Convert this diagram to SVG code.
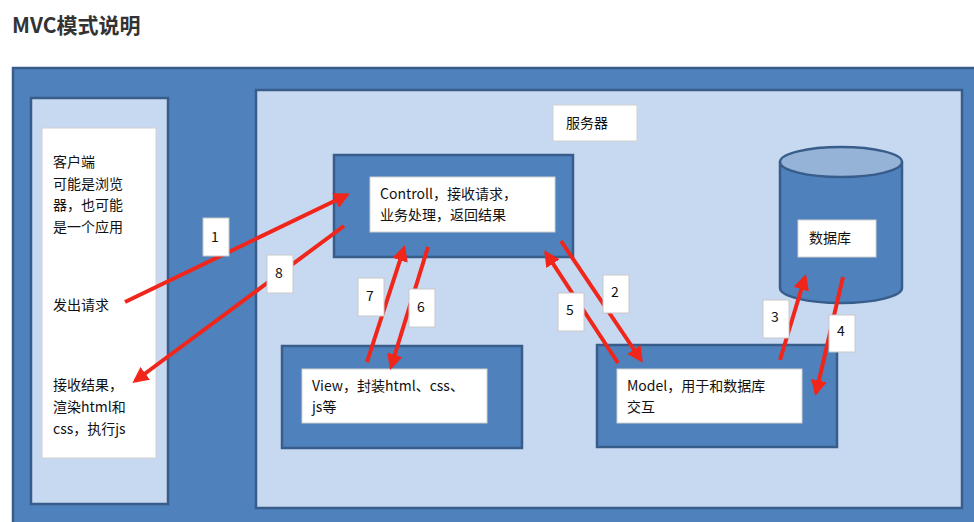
<svg xmlns="http://www.w3.org/2000/svg" width="974" height="522" viewBox="0 0 974 522">
<defs>
<style>
.dk{fill:#4f81bd;stroke:#385d8a;stroke-width:2.5}
.lt{fill:#c6d9f1;stroke:#385d8a;stroke-width:2.5}
.wb{fill:#fff;stroke:#d0d0d0;stroke-width:1}
text{font-family:"Noto Sans CJK SC","Liberation Sans",sans-serif;font-size:14px;fill:#111}
.lb{fill:#fff;stroke:#c8c8c8;stroke-width:1}
.ar{stroke:#f0261b;stroke-width:4;fill:none;marker-end:url(#ah)}
</style>
<marker id="ah" viewBox="0 0 10 10" refX="8" refY="5" markerWidth="4" markerHeight="4" orient="auto"><path d="M0,0L10,5L0,10z" fill="#f0261b"/></marker>
</defs>
<rect width="974" height="522" fill="#fff"/>
<text x="12" y="33" style="font-size:21px;font-weight:bold;fill:#333">MVC模式说明</text>
<rect x="13" y="68" width="970" height="460" class="dk"/>
<g id="client">
<rect x="31" y="98" width="137" height="406" class="lt"/>
<rect x="42" y="128" width="114" height="330" class="wb"/>
<text x="53" y="167">客户端</text>
<text x="53" y="189">可能是浏览</text>
<text x="53" y="210">器，也可能</text>
<text x="53" y="232">是一个应用</text>
<text x="53" y="310">发出请求</text>
<text x="53" y="390">接收结果，</text>
<text x="53" y="412">渲染html和</text>
<text x="53" y="434">css，执行js</text>
</g>
<g id="server">
<rect x="256" y="90" width="706" height="418" class="lt"/>
<rect x="553" y="105" width="84" height="36" class="wb"/>
<text x="566" y="128">服务器</text>
</g>
<g id="controller">
<rect x="334" y="155" width="239" height="102" class="dk"/>
<rect x="370" y="177" width="185" height="55" class="wb"/>
<text x="380" y="199">Controll，接收请求，</text>
<text x="380" y="220">业务处理，返回结果</text>
</g>
<g id="view">
<rect x="282" y="346" width="240" height="102" class="dk"/>
<rect x="302" y="369" width="185" height="54" class="wb"/>
<text x="312" y="391">View，封装html、css、</text>
<text x="312" y="412">js等</text>
</g>
<g id="model">
<rect x="597" y="345" width="240" height="102" class="dk"/>
<rect x="617" y="369" width="185" height="54" class="wb"/>
<text x="627" y="391">Model，用于和数据库</text>
<text x="627" y="412">交互</text>
</g>
<g id="db">
<path d="M780,162 L780,288 A61,15 0 0 0 902,288 L902,162" fill="#4f81bd" stroke="#385d8a" stroke-width="2.5"/>
<ellipse cx="841" cy="162" rx="61" ry="15" fill="#95b3d7" stroke="#385d8a" stroke-width="2.5"/>
<rect x="798" y="220" width="78" height="37" class="wb"/>
<text x="809" y="243">数据库</text>
</g>
<g id="connectors">
<path class="ar" d="M125,302 L347,195"/>
<path class="ar" d="M344,226 L135,381"/>
<path class="ar" d="M367,362 L404,248"/>
<path class="ar" d="M428,247 L391,367"/>
<path class="ar" d="M561,241 L641,360"/>
<path class="ar" d="M618,363 L546,253"/>
<path class="ar" d="M780,360 L805,277"/>
<path class="ar" d="M843,277 L816,393"/>
</g>
<g id="labels">
<rect x="203" y="218" width="26" height="38" class="lb"/><text x="211" y="242">1</text>
<rect x="267" y="255" width="26" height="38" class="lb"/><text x="275" y="278">8</text>
<rect x="358" y="278" width="26" height="38" class="lb"/><text x="366" y="301">7</text>
<rect x="409" y="289" width="26" height="38" class="lb"/><text x="417" y="312">6</text>
<rect x="558" y="293" width="26" height="38" class="lb"/><text x="566" y="315">5</text>
<rect x="603" y="275" width="26" height="38" class="lb"/><text x="611" y="297">2</text>
<rect x="763" y="300" width="26" height="38" class="lb"/><text x="771" y="322">3</text>
<rect x="829" y="315" width="26" height="37" class="lb"/><text x="837" y="336">4</text>
</g>
</svg>
